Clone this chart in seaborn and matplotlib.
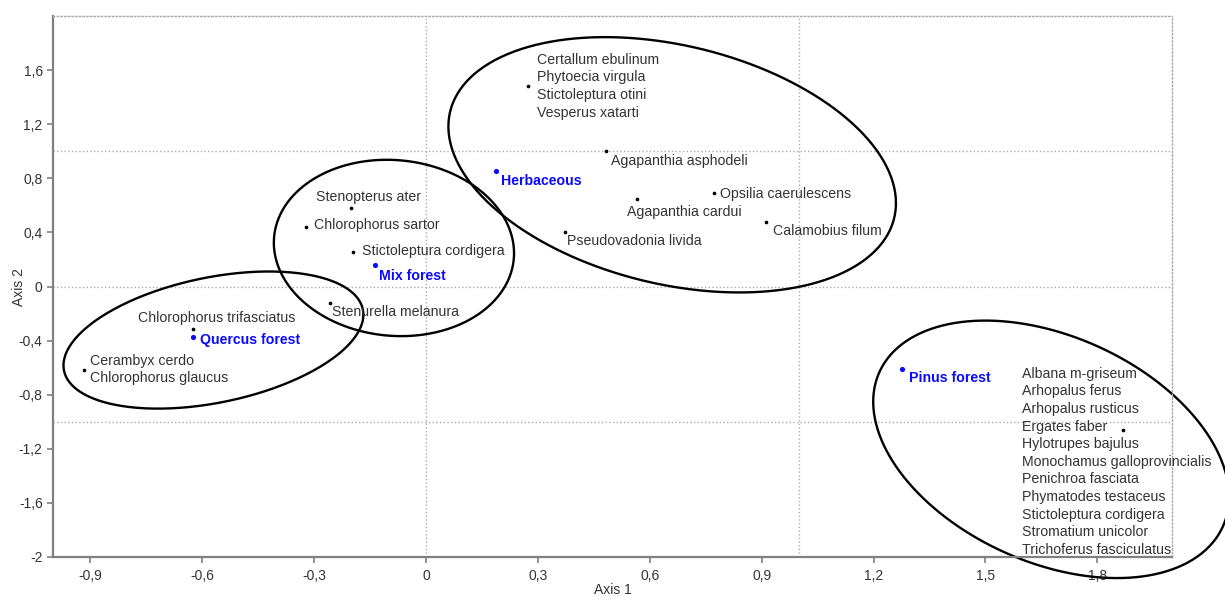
import numpy as np
import pandas as pd
import matplotlib
matplotlib.use('Agg')
import matplotlib.pyplot as plt
import matplotlib.ticker as mticker
import seaborn as sns

# species scores (axis 1, axis 2)
species = [
    'Certallum ebulinum\nPhytoecia virgula\nStictoleptura otini\nVesperus xatarti',
    'Agapanthia asphodeli',
    'Opsilia caerulescens',
    'Agapanthia cardui',
    'Calamobius filum',
    'Pseudovadonia livida',
    'Stenopterus ater',
    'Chlorophorus sartor',
    'Stictoleptura cordigera',
    'Stenurella melanura',
    'Chlorophorus trifasciatus',
    'Cerambyx cerdo\nChlorophorus glaucus',
    'Albana m-griseum\nArhopalus ferus\nArhopalus rusticus\nErgates faber\n'
    'Hylotrupes bajulus\nMonochamus galloprovincialis\nPenichroa fasciata\n'
    'Phymatodes testaceus\nStictoleptura cordigera\nStromatium unicolor\n'
    'Trichoferus fasciculatus',
]
sp_x = [0.273, 0.483, 0.772, 0.566, 0.912, 0.373, -0.201, -0.322, -0.196,
        -0.257, -0.625, -0.917, 1.869]
sp_y = [1.481, 1.0, 0.689, 0.644, 0.474, 0.400, 0.578, 0.437, 0.252,
        -0.119, -0.311, -0.615, -1.059]

# habitat scores
habitats = ['Herbaceous', 'Mix forest', 'Quercus forest', 'Pinus forest']
hab_x = [0.188, -0.137, -0.625, 1.276]
hab_y = [0.852, 0.156, -0.370, -0.607]

# grouping ellipses: centre, half extents, tilt (correlation)
ell_cx = [-0.570, -0.086, 0.660, 1.676]
ell_cy = [-0.396, 0.285, 0.900, -1.204]
ell_sx = [0.402, 0.322, 0.600, 0.477]
ell_sy = [0.507, 0.652, 0.944, 0.952]
ell_rho = [0.37, -0.06, -0.30, -0.37]

xticks = [-0.9, -0.6, -0.3, 0, 0.3, 0.6, 0.9, 1.2, 1.5, 1.8]
yticks = [-2, -1.6, -1.2, -0.8, -0.4, 0, 0.4, 0.8, 1.2, 1.6]

# label offsets in pixels (dx, dy) and alignment
sp_off = [(9, 0, 'left'), (5, -10, 'left'), (6, -1, 'left'), (-10, -13, 'left'),
          (7, -9, 'left'), (2, -9, 'left'), (-35, 11, 'left'), (8, 2, 'left'),
          (9, 1, 'left'), (2, -9, 'left'), (24, 11, 'center'), (6, 0, 'left'),
          (-101, -32, 'left')]
hab_off = [(5, -10), (4, -11), (7, -3), (7, -9)]
line_step = 17.6  # px between stacked names

sns.set_style('ticks')
plt.rcParams['font.family'] = ['Liberation Sans', 'DejaVu Sans']

fig = plt.figure(figsize=(12.25, 5.98), dpi=100)
ax = fig.add_axes([0.0433, 0.0686, 0.9134, 0.9046])

grey = '#aaaaaa'
for v in [0, 1]:
    ax.axvline(v, color=grey, lw=1, ls=':', zorder=0)
for v in [-1, 0, 1]:
    ax.axhline(v, color=grey, lw=1, ls=':', zorder=0)

t = np.linspace(0, 2 * np.pi, 300)
for cx, cy, sx, sy, r in zip(ell_cx, ell_cy, ell_sx, ell_sy, ell_rho):
    ex = cx + sx * np.cos(t)
    ey = cy + sy * (r * np.cos(t) + np.sqrt(1 - r * r) * np.sin(t))
    ax.plot(ex, ey, color='black', lw=1.7, clip_on=False, zorder=2)

sp = pd.DataFrame({'x': sp_x, 'y': sp_y, 'name': species})
hb = pd.DataFrame({'x': hab_x, 'y': hab_y, 'name': habitats})
sns.scatterplot(data=sp, x='x', y='y', color='black', s=7, linewidth=0, ax=ax, zorder=3)
sns.scatterplot(data=hb, x='x', y='y', color='#0a0aff', s=14, linewidth=0, ax=ax, zorder=3)

txt = '#333333'
fs = 10.2
for (x, y, name), (dx, dy, ha) in zip(sp[['x', 'y', 'name']].values, sp_off):
    lines = name.split('\n')
    n = len(lines)
    for i, line in enumerate(lines):
        ax.annotate(line, (x, y), xytext=(dx, dy + ((n - 1) / 2 - i) * line_step),
                    textcoords='offset pixels', ha=ha, va='center',
                    fontsize=fs, color=txt)
for (x, y, name), (dx, dy) in zip(hb[['x', 'y', 'name']].values, hab_off):
    ax.annotate(name, (x, y), xytext=(dx, dy), textcoords='offset pixels',
                ha='left', va='center', fontsize=fs, color='#0a0aff',
                fontweight='bold')

ax.set_xlim(-1, 2)
ax.set_ylim(-2, 2)
ax.set_xticks(xticks)
ax.set_yticks(yticks)
fmt = mticker.FuncFormatter(lambda v, p: f'{round(v, 1):g}'.replace('.', ','))
ax.xaxis.set_major_formatter(fmt)
ax.yaxis.set_major_formatter(fmt)
ax.tick_params(labelsize=10, labelcolor=txt, color='#808080', length=4, width=1.2)
ax.tick_params(axis='x', pad=5)

for s in ['left', 'bottom']:
    ax.spines[s].set_color('#808080')
    ax.spines[s].set_linewidth(1.6)
for s in ['top', 'right']:
    ax.spines[s].set_color(grey)
    ax.spines[s].set_linewidth(1)
    ax.spines[s].set_linestyle(':')

ax.set_xlabel('Axis 1', fontsize=10, color=txt, labelpad=0)
ax.set_ylabel('Axis 2', fontsize=10, color=txt, labelpad=-5)

fig.savefig('out.png', dpi=100)
